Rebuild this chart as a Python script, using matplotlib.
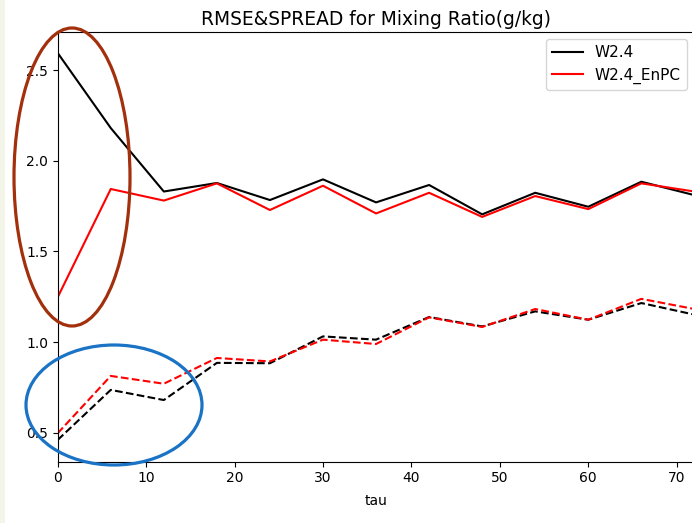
import matplotlib
matplotlib.use("Agg")
import matplotlib.pyplot as plt
from matplotlib.patches import Ellipse, Rectangle

tau = [0, 6, 12, 18, 24, 30, 36, 42, 48, 54, 60, 66, 72]
rmse_w24 = [2.594, 2.18, 1.83, 1.877, 1.783, 1.897, 1.77, 1.866, 1.704, 1.823, 1.746, 1.884, 1.81]
rmse_enpc = [1.247, 1.844, 1.78, 1.875, 1.728, 1.862, 1.709, 1.823, 1.69, 1.805, 1.733, 1.875, 1.83]
spread_w24 = [0.46, 0.736, 0.68, 0.885, 0.883, 1.031, 1.013, 1.138, 1.086, 1.169, 1.123, 1.215, 1.151]
spread_enpc = [0.497, 0.813, 0.77, 0.912, 0.893, 1.013, 0.989, 1.136, 1.083, 1.182, 1.123, 1.238, 1.182]

W, H = 692, 523
fig = plt.figure(figsize=(W / 100, H / 100), dpi=100)
fig.patch.set_facecolor("white")

# light strip on the left edge
fig.patches.append(Rectangle((0, 0), 5 / W, 1, transform=fig.transFigure,
                             facecolor="#f2f5e8", edgecolor="none", zorder=0))

ax = fig.add_axes([57.7 / W, 1 - 461.7 / H, (694.4 - 57.7) / W, (461.7 - 32) / H])
ax.plot(tau, rmse_w24, color="black", lw=1.5, label="W2.4")
ax.plot(tau, rmse_enpc, color="red", lw=1.5, label="W2.4_EnPC")
ax.plot(tau, spread_w24, color="black", lw=1.5, ls="--")
ax.plot(tau, spread_enpc, color="red", lw=1.5, ls="--")
ax.set_xlim(0, 72)
ax.set_ylim(0.340, 2.7097)
ax.set_xticks([0, 10, 20, 30, 40, 50, 60, 70])
ax.set_yticks([0.5, 1.0, 1.5, 2.0, 2.5])
ax.set_xlabel("tau", labelpad=6)
ax.set_title("RMSE&SPREAD for Mixing Ratio(g/kg)", fontsize=13.4, pad=5)
ax.legend(loc="upper right", bbox_to_anchor=(687 / W, 1 - 39 / H),
          bbox_transform=fig.transFigure, borderaxespad=0, fontsize=11)

# annotation ellipses (figure pixel coordinates)
def px_ellipse(cx, cy, w, h, color):
    e = Ellipse((cx / W, 1 - cy / H), w / W, h / H, transform=fig.transFigure,
                fill=False, edgecolor=color, lw=2.3, zorder=10)
    fig.patches.append(e)

px_ellipse(72, 177, 116, 298, "#a3300c")
px_ellipse(114, 405, 176, 120, "#1a73c4")

fig.savefig("out.png", dpi=100)
